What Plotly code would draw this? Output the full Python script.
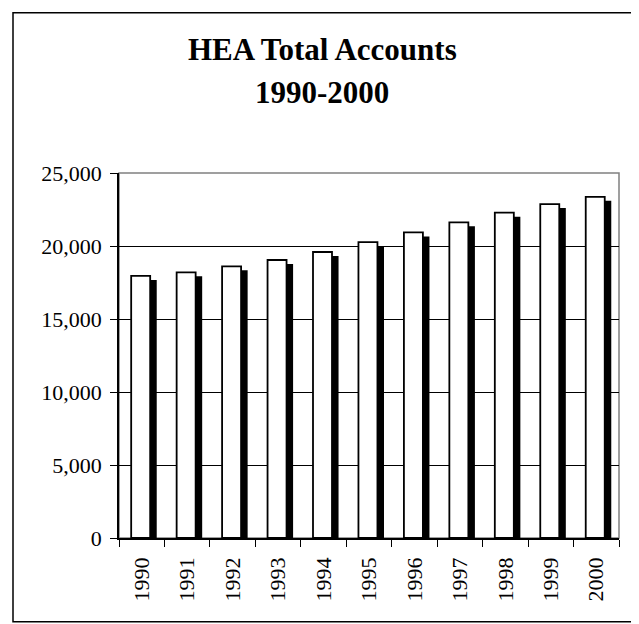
import plotly.graph_objects as go

years = ["1990", "1991", "1992", "1993", "1994", "1995", "1996", "1997", "1998", "1999", "2000"]
accounts = [17950, 18200, 18610, 19040, 19590, 20270, 20930, 21620, 22280, 22870, 23370]
y_ticks = [0, 5000, 10000, 15000, 20000, 25000]
y_tick_labels = ["0", "5,000", "10,000", "15,000", "20,000", "25,000"]
title_lines = ["HEA Total Accounts", "1990-2000"]

PAGE_MARGIN = 8  # default browser body margin around the plot div
WIN_W, WIN_H = 639, 624
W, H = WIN_W - PAGE_MARGIN, WIN_H - PAGE_MARGIN
# target plot area in window pixels
PX_LEFT, PX_RIGHT, PX_TOP, PX_BOTTOM = 119, 619, 172.7, 538.5
L = PX_LEFT - PAGE_MARGIN
T = PX_TOP - PAGE_MARGIN
R = WIN_W - PX_RIGHT
B = WIN_H - PX_BOTTOM
PW, PH = PX_RIGHT - PX_LEFT, PX_BOTTOM - PX_TOP
YMAX = 25000
SHADOW_DROP_PX = 4

shadow_drop = SHADOW_DROP_PX * YMAX / PH
serif = "Liberation Serif, Times New Roman, serif"

fig = go.Figure()
# drop shadow behind each bar
fig.add_trace(go.Bar(
    x=years, y=[v - shadow_drop for v in accounts],
    offset=0.14, width=0.19,
    marker=dict(color="black", line=dict(width=0)),
    hoverinfo="skip", showlegend=False,
))
# white bars with black outline
fig.add_trace(go.Bar(
    x=years, y=accounts,
    offset=-0.232, width=0.418,
    marker=dict(color="white", line=dict(color="black", width=1.8)),
    showlegend=False,
))


def px_x(px):
    return (px - PX_LEFT) / PW


def px_y(py):
    return (PX_BOTTOM - py) / PH


shapes = [
    dict(type="rect", xref="paper", yref="paper", x0=0, x1=1, y0=0, y1=1,
         line=dict(color="#808080", width=1.5), layer="below"),
    dict(type="rect", xref="paper", yref="paper",
         x0=px_x(13), x1=px_x(637.5), y0=px_y(622.5), y1=px_y(12),
         line=dict(color="black", width=1.5)),
]

annotations = [
    dict(text="<b>%s</b>" % title_lines[0], xref="paper", yref="paper",
         x=px_x(322), y=px_y(48.5), xanchor="center", yanchor="middle",
         showarrow=False, font=dict(family=serif, size=31, color="black")),
    dict(text="<b>%s</b>" % title_lines[1], xref="paper", yref="paper",
         x=px_x(322), y=px_y(92.5), xanchor="center", yanchor="middle",
         showarrow=False, font=dict(family=serif, size=31, color="black")),
]

fig.update_layout(
    width=W, height=H,
    margin=dict(l=L, r=R, t=T, b=B, pad=0),
    paper_bgcolor="white", plot_bgcolor="white",
    barmode="overlay",
    shapes=shapes, annotations=annotations,
    font=dict(family=serif, color="black"),
)
fig.update_xaxes(
    type="category", tickangle=-90,
    tickfont=dict(family=serif, size=22, color="black"),
    showline=True, linecolor="black", linewidth=1.5,
    ticks="outside", ticklen=7, tickcolor="black", tickwidth=1,
    ticklabelstandoff=9,
    tickson="boundaries", showgrid=False, zeroline=False,
)
fig.update_yaxes(
    range=[0, YMAX], tickvals=y_ticks, ticktext=y_tick_labels,
    tickfont=dict(family=serif, size=22, color="black"),
    showline=True, linecolor="black", linewidth=1.5,
    ticks="outside", ticklen=7, tickcolor="black", tickwidth=1,
    ticklabelstandoff=4,
    showgrid=True, gridcolor="black", gridwidth=1, zeroline=False,
)

fig.write_html("out.html")
